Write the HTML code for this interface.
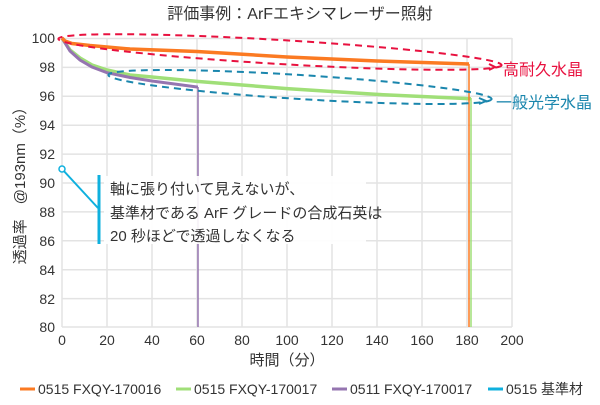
<!DOCTYPE html>
<html><head><meta charset="utf-8"><style>
body{margin:0;background:#fff;}
svg text{font-family:"Liberation Sans","Noto Sans CJK JP",sans-serif;}
</style></head><body>
<svg width="600" height="400" viewBox="0 0 600 400" xmlns="http://www.w3.org/2000/svg">
<rect width="600" height="400" fill="#fff"/>
<text x="300" y="19" font-size="16" text-anchor="middle" fill="#333">評価事例：ArFエキシマレーザー照射</text>
<g stroke="#e3e3e3" stroke-width="1.5">
<line x1="62" y1="38.5" x2="512" y2="38.5"/><line x1="62" y1="67.4" x2="512" y2="67.4"/><line x1="62" y1="96.3" x2="512" y2="96.3"/><line x1="62" y1="125.2" x2="512" y2="125.2"/><line x1="62" y1="154.1" x2="512" y2="154.1"/><line x1="62" y1="183" x2="512" y2="183"/><line x1="62" y1="211.9" x2="512" y2="211.9"/><line x1="62" y1="240.8" x2="512" y2="240.8"/><line x1="62" y1="269.7" x2="512" y2="269.7"/><line x1="62" y1="298.6" x2="512" y2="298.6"/><line x1="62" y1="327" x2="512" y2="327"/>
<line x1="62" y1="38" x2="62" y2="327"/><line x1="107" y1="38" x2="107" y2="327"/><line x1="152" y1="38" x2="152" y2="327"/><line x1="197" y1="38" x2="197" y2="327"/><line x1="242" y1="38" x2="242" y2="327"/><line x1="287" y1="38" x2="287" y2="327"/><line x1="332" y1="38" x2="332" y2="327"/><line x1="377" y1="38" x2="377" y2="327"/><line x1="422" y1="38" x2="422" y2="327"/><line x1="467" y1="38" x2="467" y2="327"/><line x1="512" y1="38" x2="512" y2="327"/>
</g>
<g font-size="14" fill="#333" text-anchor="end">
<text x="55" y="43">100</text><text x="55" y="72">98</text><text x="55" y="101">96</text><text x="55" y="130">94</text><text x="55" y="159">92</text><text x="55" y="188">90</text><text x="55" y="217">88</text><text x="55" y="246">86</text><text x="55" y="275">84</text><text x="55" y="304">82</text><text x="55" y="332">80</text>
</g>
<g font-size="14" fill="#333" text-anchor="middle">
<text x="62" y="345">0</text><text x="107" y="345">20</text><text x="152" y="345">40</text><text x="197" y="345">60</text><text x="242" y="345">80</text><text x="287" y="345">100</text><text x="332" y="345">120</text><text x="377" y="345">140</text><text x="422" y="345">160</text><text x="467" y="345">180</text><text x="512" y="345">200</text>
</g>
<text x="287" y="365" font-size="15" fill="#333" text-anchor="middle">時間（分）</text>
<text transform="translate(25,182) rotate(-90)" font-size="15" fill="#333" text-anchor="middle">透過率　@193nm（%）</text>
<!-- series -->
<polyline fill="none" stroke="#a0df78" stroke-width="3.5" points="62,38 70,50 80,58 92,65 107,70 130,75 152,77 197,81.4 242,85 287,88.6 332,91.5 377,94.4 422,96.5 471,98.7"/>
<line x1="471" y1="98" x2="471" y2="327" stroke="#a0df78" stroke-width="1.5"/>
<polyline fill="none" stroke="#9575b0" stroke-width="3" points="62,38 70,51 80,60 92,67 107,72.7 130,77.5 152,81 197,87 198,87"/>
<line x1="198" y1="87" x2="198" y2="327" stroke="#9575b0" stroke-width="1.5"/>
<polyline fill="none" stroke="#fb7a22" stroke-width="3.5" points="62,38 65,41 72,43.5 90,45.5 130,49 197,51.5 287,57 377,61 469,64"/>
<line x1="469" y1="64" x2="469" y2="327" stroke="#fb7a22" stroke-width="1.5"/>
<!-- ellipses -->
<ellipse cx="280" cy="52" rx="222" ry="12" fill="none" stroke="#e8113f" stroke-width="2" stroke-dasharray="7,5" transform="rotate(3.4 280 52)"/>
<ellipse cx="300" cy="87" rx="192" ry="12" fill="none" stroke="#1a86ad" stroke-width="2" stroke-dasharray="7,5" transform="rotate(3.6 300 87)"/>
<polyline points="489,64 495,67 489,70" fill="none" stroke="#e8113f" stroke-width="2"/>
<polyline points="479,98 486,101 479,104" fill="none" stroke="#1a86ad" stroke-width="2"/>
<text x="503" y="75" font-size="16" fill="#e8113f">高耐久水晶</text>
<text x="496" y="108" font-size="16" fill="#1a86ad">一般光学水晶</text>
<!-- callout -->
<rect x="104" y="176" width="262" height="68" fill="#fff" opacity="0.9"/>
<line x1="62" y1="169" x2="98" y2="208" stroke="#0fb0de" stroke-width="2"/>
<circle cx="62" cy="169" r="3" fill="#fff" stroke="#0fb0de" stroke-width="1.5"/>
<line x1="99" y1="175" x2="99" y2="244" stroke="#0fb0de" stroke-width="3"/>
<g font-size="15" fill="#333">
<text x="110" y="194">軸に張り付いて見えないが、</text>
<text x="110" y="218">基準材である ArF グレードの合成石英は</text>
<text x="110" y="241">20 秒ほどで透過しなくなる</text>
</g>
<!-- legend -->
<g font-size="14" fill="#333">
<line x1="20" y1="389" x2="35" y2="389" stroke="#fb7a22" stroke-width="3"/><text x="38" y="394">0515 FXQY-170016</text>
<line x1="176" y1="389" x2="191" y2="389" stroke="#a0df78" stroke-width="3"/><text x="194" y="394">0515 FXQY-170017</text>
<line x1="332" y1="389" x2="347" y2="389" stroke="#9575b0" stroke-width="3"/><text x="350" y="394">0511 FXQY-170017</text>
<line x1="488" y1="389" x2="503" y2="389" stroke="#0fb0de" stroke-width="3"/><text x="506" y="394">0515 基準材</text>
</g>
</svg>
</body></html>
